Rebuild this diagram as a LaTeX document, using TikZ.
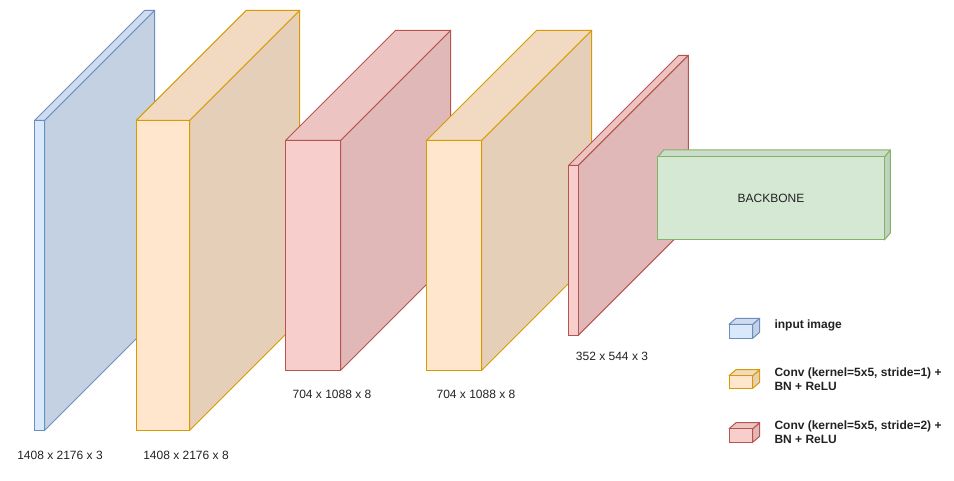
\documentclass[tikz,border=0pt]{standalone}
\usepackage{fontspec}
\setmainfont{Liberation Sans}
\definecolor{bluefill}{HTML}{DAE8FC}
\definecolor{bluetop}{HTML}{CFDCEF}
\definecolor{blueside}{HTML}{C4D1E3}
\definecolor{blueline}{HTML}{6C8EBF}
\definecolor{orangefill}{HTML}{FFE6CC}
\definecolor{orangetop}{HTML}{F2DAC2}
\definecolor{orangeside}{HTML}{E6CFB8}
\definecolor{orangeline}{HTML}{D79B00}
\definecolor{redfill}{HTML}{F8CECC}
\definecolor{redtop}{HTML}{ECC4C2}
\definecolor{redside}{HTML}{DFB8B7}
\definecolor{redline}{HTML}{B85450}
\definecolor{greenfill}{HTML}{D5E8D4}
\definecolor{greentop}{HTML}{CBDCCA}
\definecolor{greenside}{HTML}{C0D1BF}
\definecolor{greenline}{HTML}{82B366}
\definecolor{txt}{HTML}{222222}
% x1 y1 x2 y2 dx dy colourprefix
\newcommand{\cubeshape}[7]{%
  \filldraw[fill=#7side, draw=#7line, line join=round] (#3,#2) -- (#3+#5,#2-#6) -- (#3+#5,#4-#6) -- (#3,#4) -- cycle;
  \filldraw[fill=#7top, draw=#7line, line join=round] (#1,#2) -- (#1+#5,#2-#6) -- (#3+#5,#2-#6) -- (#3,#2) -- cycle;
  \filldraw[fill=#7fill, draw=#7line] (#1,#2) rectangle (#3,#4);
}
\tikzset{
  dimlabel/.style={text=txt, font=\fontsize{9}{10.5}\selectfont, inner sep=0pt},
  legendtext/.style={text=txt, font=\fontsize{9}{10.5}\selectfont\bfseries, inner sep=0pt, anchor=west, align=left},
}
\begin{document}
\begin{tikzpicture}[x=0.75pt, y=-0.75pt, line width=0.75pt]
\useasboundingbox (0,0) rectangle (954,481);
% blocks
\cubeshape{34.7}{120.3}{44.7}{430.3}{110}{110}{blue}
\cubeshape{136.3}{120.3}{189.7}{430.3}{110}{110}{orange}
\cubeshape{285.7}{140.3}{340.7}{370.3}{110}{110}{red}
\cubeshape{426.7}{140.3}{481.7}{370.3}{110}{110}{orange}
\cubeshape{568.7}{165.3}{578.3}{335.3}{110}{110}{red}
\cubeshape{657.7}{157}{884.3}{240}{6}{7}{green}
\node[dimlabel] (backbone) at (771,198) {BACKBONE};
% dimension labels
\node[dimlabel] (l1) at (60,455) {1408 x 2176 x 3};
\node[dimlabel] (l2) at (186,455) {1408 x 2176 x 8};
\node[dimlabel] (l3) at (332,394.5) {704 x 1088 x 8};
\node[dimlabel] (l4) at (476,394.5) {704 x 1088 x 8};
\node[dimlabel] (l5) at (612,356) {352 x 544 x 3};
% legend
\cubeshape{729}{324.3}{752.7}{338.3}{7}{6}{blue}
\cubeshape{729}{375.7}{752.7}{388.3}{7}{6}{orange}
\cubeshape{729}{428.7}{752.7}{442.3}{7}{6}{red}
\node[legendtext] (leg1) at (774,325.5) {input image};
\node[legendtext] (leg2) at (774,379) {Conv (kernel=5x5, stride=1) +\\BN + ReLU};
\node[legendtext] (leg3) at (774,432) {Conv (kernel=5x5, stride=2) +\\BN + ReLU};
\end{tikzpicture}
\end{document}
